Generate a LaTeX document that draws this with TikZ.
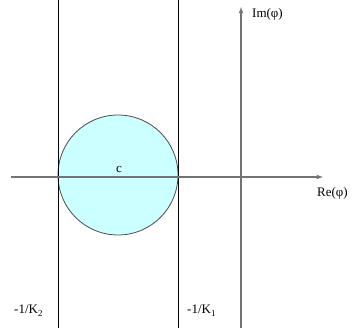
\documentclass[tikz,border=0pt]{standalone}
\usepackage{fontspec}
\setmainfont{Liberation Serif}
\definecolor{circfill}{RGB}{204,255,255}
\newcommand{\lowsub}[1]{\raisebox{-3pt}{\fontsize{9}{9}\selectfont #1}}
\begin{document}
\begin{tikzpicture}[x=1pt,y=-1pt,
  axis/.style={draw=black!55,line width=1.1pt,-latex},
  bound/.style={draw=black,line width=0.7pt},
  lbl/.style={inner sep=0pt,font=\fontsize{13}{15}\selectfont}]
\useasboundingbox (0,0) rectangle (360,328);
\coordinate (xs) at (11,177);
\coordinate (xe) at (323,177);
\coordinate (ys) at (241,328);
\coordinate (ye) at (241,7);
\coordinate (l2t) at (58,0);
\coordinate (l2b) at (58,328);
\coordinate (l1t) at (178,0);
\coordinate (l1b) at (178,328);
\node[circle,draw=black!70,fill=circfill,line width=0.8pt,minimum size=120pt,inner sep=0pt] (circ) at (118,175) {};
\draw[bound] (l2t) -- (l2b);
\draw[bound] (l1t) -- (l1b);
\draw[axis] (xs) -- (xe);
\draw[axis] (ys) -- (ye);
\node[lbl] (c) at (119,170) {c};
\node[lbl,anchor=west] (im) at (252,14) {Im(φ)};
\node[lbl,anchor=west] (re) at (317,193) {Re(φ)};
\node[lbl,anchor=west] (k2) at (14,311) {-1/K\lowsub{2}};
\node[lbl,anchor=west] (k1) at (187,311) {-1/K\lowsub{1}};
\end{tikzpicture}
\end{document}
